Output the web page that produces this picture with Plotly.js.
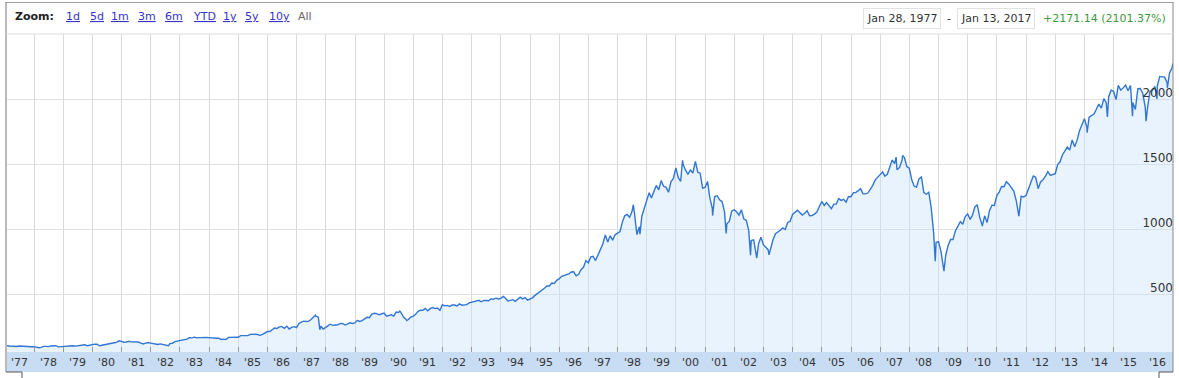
<!DOCTYPE html>
<html>
<head>
<meta charset="utf-8">
<script src="https://cdn.plot.ly/plotly-3.0.1.min.js"></script>
<style>
html,body{margin:0;padding:0;background:#fff;}
#chart{width:1179px;height:378px;}
</style>
</head>
<body>
<div id="chart"></div>
<script>
// ---- DATA (S&P 500 level) ----
const startDate = '1977-01-28';
const startValue = 103.32;
const endDate = '2017-01-13';
const endValue = 2274.46;
const firstMonthYear = 1977;
// monthly closes, Jan 1977 .. Dec 2016
const monthlyClose = [
102.0,99.8,98.4,98.4,96.1,100.5,98.9,96.8,96.5,92.3,94.8,95.1,
89.3,87.0,89.2,97.0,97.2,95.5,100.7,103.3,102.5,93.2,94.7,96.1,
99.9,96.3,101.6,101.8,99.1,102.9,103.8,109.3,109.3,101.8,106.2,107.9,
114.2,113.7,102.1,106.3,111.2,114.2,121.7,122.4,125.5,127.5,140.5,135.8,
129.6,131.3,136.0,132.8,133.0,131.2,130.9,122.8,116.2,121.9,126.4,122.6,
120.4,113.1,112.0,116.4,111.9,109.6,107.1,119.5,120.4,133.7,138.5,140.6,
145.3,148.1,153.0,164.4,162.4,168.1,162.6,164.4,166.1,163.6,166.4,164.9,
163.4,157.1,159.2,160.1,150.6,153.2,150.7,166.7,166.1,166.1,163.6,167.2,
179.6,181.2,180.7,179.8,189.6,191.9,190.9,188.6,182.1,189.8,202.2,211.3,
211.8,226.9,238.9,235.5,247.4,250.8,236.1,252.9,231.3,244.0,249.2,242.2,
274.1,284.2,291.7,288.4,290.1,304.0,318.7,329.8,321.8,251.8,230.3,247.1,
257.1,267.8,258.9,261.3,262.2,273.5,272.0,261.5,271.9,279.0,273.7,277.7,
297.5,288.9,294.9,309.6,320.5,318.0,346.1,351.5,349.2,340.4,346.0,353.4,
329.1,331.9,339.9,330.8,361.2,358.0,356.2,322.6,306.1,304.0,322.2,330.2,
343.9,367.1,375.2,375.3,389.8,371.2,387.8,395.4,387.9,392.5,375.2,417.1,
408.8,412.7,403.7,415.0,415.4,408.1,424.2,414.0,417.8,418.7,431.4,435.7,
438.8,443.4,451.7,440.2,450.2,450.5,448.1,463.6,458.9,467.8,461.8,466.4,
481.6,467.1,445.8,450.9,456.5,444.3,458.3,475.5,462.7,472.4,453.7,459.3,
470.4,487.4,500.7,514.7,533.4,544.8,562.1,561.9,584.4,581.5,605.4,615.9,
636.0,640.4,645.5,654.2,669.1,670.6,640.0,652.0,687.3,705.3,757.0,740.7,
786.2,790.8,757.1,801.3,848.3,885.1,954.3,899.5,947.3,914.6,955.4,970.4,
980.3,1049.3,1101.8,1111.8,1090.8,1133.8,1120.7,957.3,1017.0,1098.7,1163.6,1229.2,
1279.6,1238.3,1286.4,1335.2,1301.8,1372.7,1328.7,1320.4,1282.7,1362.9,1389.0,1469.3,
1394.5,1366.4,1498.6,1452.4,1420.6,1454.6,1430.8,1517.7,1436.5,1429.4,1315.2,1320.3,
1366.0,1239.9,1160.3,1249.5,1255.8,1224.4,1211.2,1133.6,1040.9,1059.8,1139.5,1148.1,
1130.2,1106.7,1147.4,1076.9,1067.1,989.8,911.6,916.1,815.3,885.8,936.3,879.8,
855.7,841.2,848.2,916.9,963.6,974.5,990.3,1008.0,996.0,1050.7,1058.2,1111.9,
1131.1,1144.9,1126.2,1107.3,1120.7,1140.8,1101.7,1104.2,1114.6,1130.2,1173.8,1211.9,
1181.3,1203.6,1180.6,1156.9,1191.5,1191.3,1234.2,1220.3,1228.8,1207.0,1249.5,1248.3,
1280.1,1280.7,1294.9,1310.6,1270.1,1270.2,1276.7,1303.8,1335.9,1377.9,1400.6,1418.3,
1438.2,1406.8,1420.9,1482.4,1530.6,1503.4,1455.3,1474.0,1526.8,1549.4,1481.1,1468.4,
1378.6,1330.6,1322.7,1385.6,1400.4,1280.0,1267.4,1282.8,1166.4,968.8,896.2,903.3,
825.9,735.1,797.9,872.8,919.1,919.3,987.5,1020.6,1057.1,1036.2,1095.6,1115.1,
1073.9,1104.5,1169.4,1186.7,1089.4,1030.7,1101.6,1049.3,1141.2,1183.3,1180.6,1257.6,
1286.1,1327.2,1325.8,1363.6,1345.2,1320.6,1292.3,1218.9,1131.4,1253.3,1247.0,1257.6,
1312.4,1365.7,1408.5,1397.9,1310.3,1362.2,1379.3,1406.6,1440.7,1412.2,1416.2,1426.2,
1498.1,1514.7,1569.2,1597.6,1630.7,1606.3,1685.7,1633.0,1681.6,1756.5,1805.8,1848.4,
1782.6,1859.5,1872.3,1884.0,1923.6,1960.2,1930.7,2003.4,1972.3,2018.1,2067.6,2058.9,
1995.0,2104.5,2067.9,2085.5,2107.4,2063.1,2103.8,1972.2,1920.0,2079.4,2080.4,2043.9,
1940.2,1932.2,2059.7,2065.3,2097.0,2098.9,2173.6,2171.0,2168.3,2126.2,2198.8,2238.8
];
// intra-month highs/lows visible in the picture
const swingDates = ['1982-08-12','1987-08-25','1987-10-19','1990-07-16','1990-10-11','1998-07-17','1998-10-08',
 '2000-03-24','2000-09-01','2001-04-04','2001-09-21','2002-07-23','2002-10-09','2003-03-11','2007-07-19',
 '2007-10-09','2008-11-20','2009-03-09','2010-07-02','2011-10-03','2014-02-03','2014-10-15','2015-08-25',
 '2016-02-11','2016-06-27','2016-11-04'];
const swingValues = [102.4,336.8,224.8,369.0,295.5,1186.8,959.4,
 1527.5,1520.8,1103.3,965.8,797.7,776.8,800.7,1553.1,
 1565.2,752.4,676.5,1022.6,1099.2,1741.9,1862.5,1867.6,
 1829.1,2000.5,2085.2];
const labelYears = [1977,1978,1979,1980,1981,1982,1983,1984,1985,1986,1987,1988,1989,1990,1991,1992,1993,
 1994,1995,1996,1997,1998,1999,2000,2001,2002,2003,2004,2005,2006,2007,2008,2009,2010,2011,2012,2013,2014,2015,2016];
const yTicks = [500,1000,1500,2000];
const zoomLinks = ['1d','5d','1m','3m','6m','YTD','1y','5y','10y'];
const rangeFrom = 'Jan 28, 1977';
const rangeTo = 'Jan 13, 2017';
const changeText = '+2171.14 (2101.37%)';

// ---- build the series ----
function pad(n){return (n<10?'0':'')+n;}
const pts = [[startDate,startValue]];
monthlyClose.forEach((v,i)=>{
  const y = firstMonthYear + Math.floor(i/12), m = i%12;
  const last = new Date(Date.UTC(y,m+1,0)).getUTCDate();
  pts.push([y+'-'+pad(m+1)+'-'+pad(last), v]);
});
swingDates.forEach((d,i)=>pts.push([d,swingValues[i]]));
pts.push([endDate,endValue]);
pts.sort((a,b)=>a[0]<b[0]?-1:(a[0]>b[0]?1:0));
const xs = pts.map(p=>p[0]), ys = pts.map(p=>p[1]);

// ---- pixel helpers for decorations ----
const W=1179,H=378,L=7,R=6,T=34,B=26;
const pw=W-L-R, ph=H-T-B;
const px=(x)=>(x-L)/pw, py=(y)=>(H-B-y)/ph;
const FONT='DejaVu Sans, Verdana, sans-serif';

const shapes=[];
function seg(x0,y0,x1,y1,color,w){shapes.push({type:'line',xref:'paper',yref:'paper',x0:px(x0),y0:py(y0),x1:px(x1),y1:py(y1),line:{color:color,width:w||1},layer:'above'});}
// axis band
shapes.push({type:'rect',xref:'paper',yref:'paper',x0:px(7),x1:px(1173),y0:py(372),y1:py(352),fillcolor:'#c8dcf3',line:{width:0},layer:'below'});
// frame
seg(6,2.5,1173,2.5,'#a0a0a0');
seg(6,2,6,372,'#777');
seg(1173,2,1173,372,'#888');
seg(6,34,1173,34,'#dcdcdc');
seg(6,372,22,372,'#555'); seg(22,372,22,378,'#555');
seg(1159,372,1173,372,'#555'); seg(1159,372,1159,378,'#555');

const ann=[];
function txt(x,y,t,opts){ann.push(Object.assign({xref:'paper',yref:'paper',x:px(x),y:py(y),xanchor:'left',yanchor:'middle',showarrow:false,text:t,font:{family:FONT,size:11,color:'#222'}},opts||{}));}
txt(13,17,'<b>Zoom:</b>');
const linkX=[64,88,109,136,163,191,221,243,267];
zoomLinks.forEach((l,i)=>txt(linkX[i],17,'<span style="text-decoration:underline">'+l+'</span>',{font:{family:FONT,size:11,color:'#3434c8'}}));
txt(296,17,'All',{font:{family:FONT,size:11,color:'#666'}});
txt(863,18,rangeFrom,{bordercolor:'#e2e2e2',borderwidth:1,borderpad:3,bgcolor:'#fff',font:{family:FONT,size:11,color:'#333'}});
txt(945,18,'-',{font:{family:FONT,size:11,color:'#333'}});
txt(957,18,rangeTo,{bordercolor:'#e2e2e2',borderwidth:1,borderpad:3,bgcolor:'#fff',font:{family:FONT,size:11,color:'#333'}});
txt(1041,18,changeText,{font:{family:FONT,size:11,color:'#3c9a3c'}});
// year labels, centred in each year on the date axis
labelYears.forEach(y=>ann.push({xref:'x',yref:'paper',x:y+'-07-02',y:py(362.5),xanchor:'center',yanchor:'middle',
  showarrow:false,text:"'"+String(y).slice(2),font:{family:FONT,size:11,color:'#333'}}));

const trace={x:xs,y:ys,type:'scatter',mode:'lines',line:{color:'#3076d2',width:1.4},
  fill:'tozeroy',fillcolor:'rgba(200,226,252,0.4)',hoverinfo:'skip'};

const layout={
  width:W,height:H,margin:{l:L,r:R,t:T,b:B,pad:0},
  paper_bgcolor:'#fff',plot_bgcolor:'#fff',showlegend:false,
  xaxis:{type:'date',range:[startDate,endDate],dtick:'M12',tick0:'1978-01-01',showticklabels:false,
    showgrid:true,gridcolor:'#dadada',gridwidth:1,ticks:'inside',ticklen:5,tickcolor:'#999',
    zeroline:false,showline:false,fixedrange:true,automargin:false},
  yaxis:{side:'right',range:[54,2500],tickvals:yTicks,ticklabelposition:'inside',ticklabelshift:-6,ticklabelstandoff:-3,
    showgrid:true,gridcolor:'#e0e0e0',zeroline:false,showline:false,ticks:'',automargin:false,
    tickfont:{family:FONT,size:12,color:'#333'},fixedrange:true},
  shapes:shapes,annotations:ann
};
Plotly.newPlot('chart',[trace],layout,{displayModeBar:false,staticPlot:true});
</script>
</body>
</html>
